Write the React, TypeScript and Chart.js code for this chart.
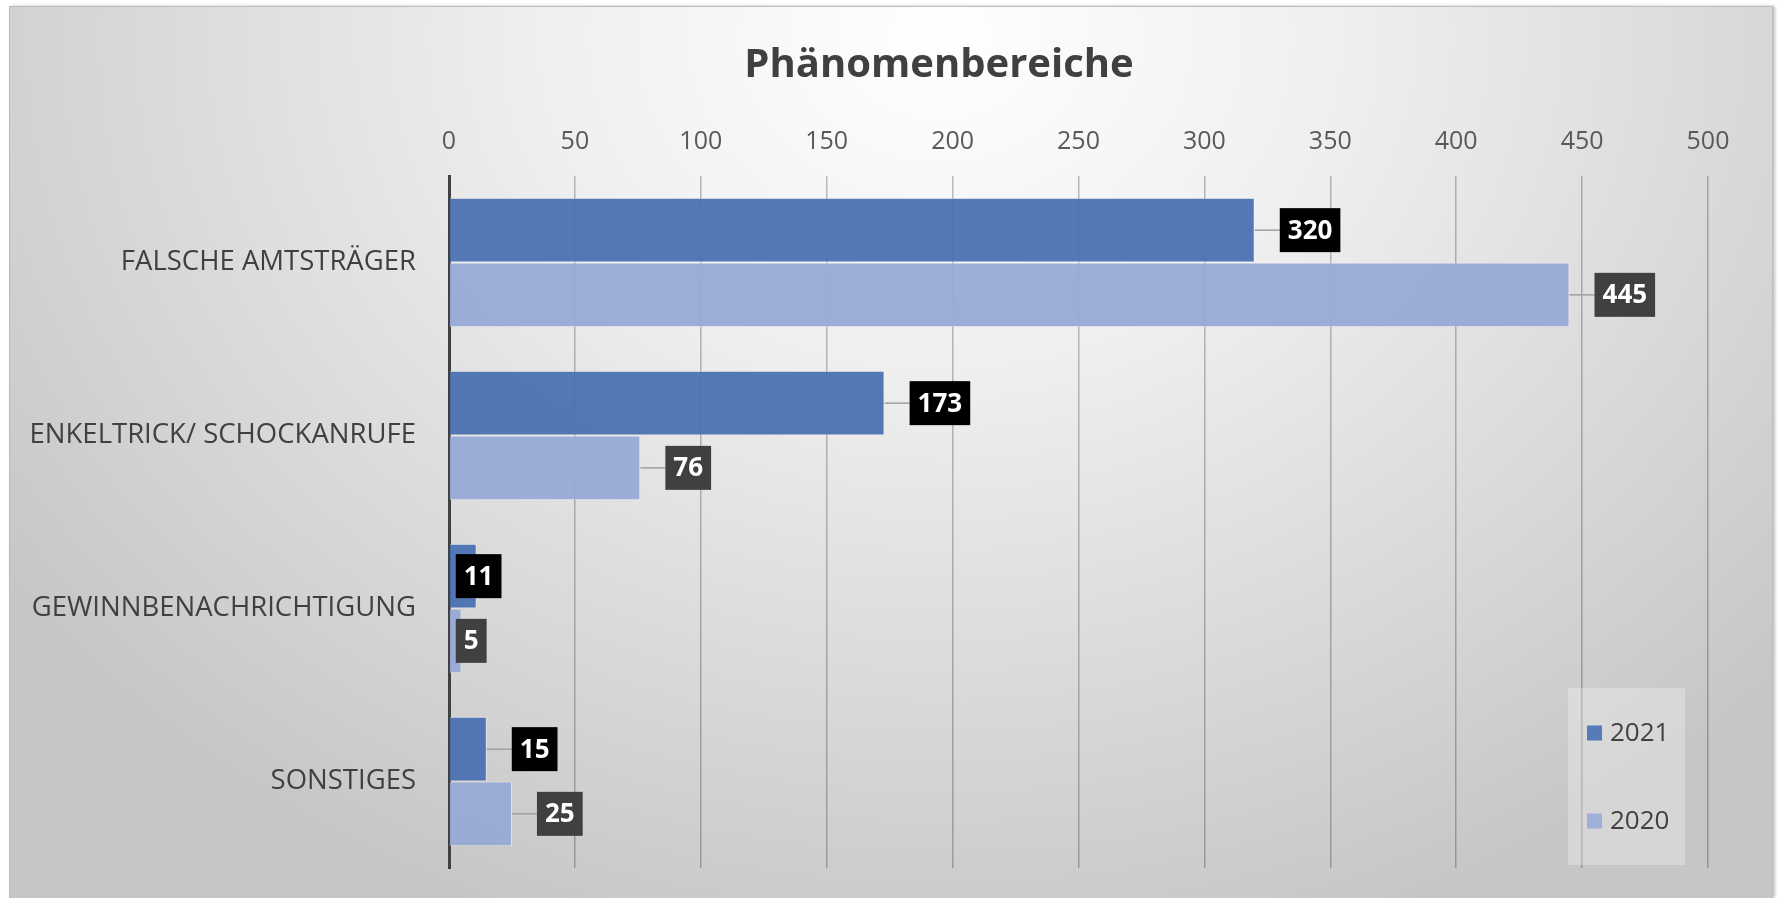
import React, { useEffect, useRef } from "react";
import { Chart, registerables } from "chart.js";

Chart.register(...registerables);

const categories = [
  "FALSCHE AMTSTRÄGER",
  "ENKELTRICK/ SCHOCKANRUFE",
  "GEWINNBENACHRICHTIGUNG",
  "SONSTIGES",
];
const seriesLabels = ["2021", "2020"];
const values2021 = [320, 173, 11, 15];
const values2020 = [445, 76, 5, 25];
const xTickMin = 0;
const xTickMax = 500;
const xTickStep = 50;
const chartTitle = "Phänomenbereiche";

const FONT = "'Open Sans', 'Noto Sans', sans-serif";
const barFill = ["rgba(72,110,178,0.93)", "rgba(150,169,214,0.93)"];
const legendFill = ["#557bb9", "#9fb0da"];
const labelBoxFill = ["#000000", "#404040"];

const CANVAS_W = 1762;
const CANVAS_H = 891;

const titlePlugin = {
  id: "offsetTitle",
  afterDraw(chart: any) {
    const ctx = chart.ctx;
    ctx.save();
    ctx.font = `bold 40px ${FONT}`;
    ctx.fillStyle = "#404040";
    ctx.textAlign = "center";
    ctx.textBaseline = "middle";
    ctx.fillText(chartTitle, chart.width / 2 + 48, 59);
    ctx.restore();
  },
};

const dataLabelPlugin = {
  id: "boxedLabels",
  afterDatasetsDraw(chart: any) {
    const ctx = chart.ctx;
    ctx.save();
    ctx.font = `bold 26px ${FONT}`;
    ctx.textBaseline = "middle";
    ctx.textAlign = "center";
    chart.data.datasets.forEach((ds: any, di: number) => {
      const meta = chart.getDatasetMeta(di);
      meta.data.forEach((bar: any, i: number) => {
        const txt = String(ds.data[i]);
        const tw = ctx.measureText(txt).width;
        const bw = tw + 16;
        const bh = 44;
        const barLen = bar.x - bar.base;
        let bx: number;
        let leader = true;
        if (barLen < 30) {
          bx = bar.base + 6;
          leader = false;
        } else {
          bx = bar.x + 25;
        }
        const by = bar.y - bh / 2;
        if (leader) {
          ctx.strokeStyle = "#a0a0a0";
          ctx.lineWidth = 1.5;
          ctx.beginPath();
          ctx.moveTo(bar.x, bar.y);
          ctx.lineTo(bx, bar.y);
          ctx.stroke();
        }
        ctx.fillStyle = labelBoxFill[di];
        ctx.fillRect(bx, by, bw, bh);
        ctx.fillStyle = "#ffffff";
        ctx.fillText(txt, bx + bw / 2, bar.y + 1);
      });
    });
    ctx.restore();
  },
};

const legendPlugin = {
  id: "insideLegend",
  afterDraw(chart: any) {
    const ctx = chart.ctx;
    const area = chart.chartArea;
    ctx.save();
    const boxX = area.right - 140;
    const boxY = area.bottom - 180;
    const boxW = 117;
    const boxH = 177;
    ctx.fillStyle = "rgba(255,255,255,0.28)";
    ctx.fillRect(boxX, boxY, boxW, boxH);
    ctx.font = `26px ${FONT}`;
    ctx.textBaseline = "middle";
    ctx.textAlign = "left";
    chart.data.datasets.forEach((ds: any, di: number) => {
      const cy = boxY + 45 + di * 88;
      ctx.fillStyle = legendFill[di];
      ctx.fillRect(boxX + 19, cy - 7.5, 15, 15);
      ctx.fillStyle = "#404040";
      ctx.fillText(ds.label, boxX + 42, cy + 1);
    });
    ctx.restore();
  },
};

export default function App() {
  const canvasRef = useRef<HTMLCanvasElement | null>(null);

  useEffect(() => {
    if (!canvasRef.current) return;
    const chart = new Chart(canvasRef.current, {
      type: "bar",
      data: {
        labels: categories,
        datasets: [
          {
            label: seriesLabels[0],
            data: values2021,
            backgroundColor: barFill[0],
            borderColor: "rgba(255,255,255,0.45)",
            borderWidth: 1,
            categoryPercentage: 0.748,
            barPercentage: 1.0,
          },
          {
            label: seriesLabels[1],
            data: values2020,
            backgroundColor: barFill[1],
            borderColor: "rgba(255,255,255,0.45)",
            borderWidth: 1,
            categoryPercentage: 0.748,
            barPercentage: 1.0,
          },
        ],
      },
      options: {
        indexAxis: "y",
        animation: false,
        responsive: false,
        maintainAspectRatio: false,
        layout: { padding: { left: 0, right: 64, top: 0, bottom: 30 } },
        plugins: {
          legend: { display: false },
          tooltip: { enabled: false },
          title: { display: false },
        },
        scales: {
          x: {
            position: "top",
            min: xTickMin,
            max: xTickMax,
            ticks: {
              stepSize: xTickStep,
              color: "#595959",
              font: { family: FONT, size: 25, lineHeight: 1.2 },
              padding: 19,
            },
            grid: {
              drawTicks: false,
              lineWidth: 1.5,
              color: (c: any) =>
                c.tick && c.tick.value === 0 ? "rgba(0,0,0,0)" : "rgba(0,0,0,0.25)",
            },
            border: { display: false },
            afterFit: (scale: any) => {
              scale.height = 169;
              scale.paddingLeft = 0;
              scale.paddingRight = 0;
              scale.paddingTop = 0;
              scale.paddingBottom = 0;
            },
          },
          y: {
            ticks: {
              color: "#404040",
              font: { family: FONT, size: 27.5 },
              padding: 33,
            },
            grid: { display: false, drawTicks: false },
            border: { display: true, color: "#404040", width: 3 },
            afterFit: (scale: any) => {
              scale.width = 439;
              scale.paddingLeft = 0;
              scale.paddingRight = 0;
              scale.paddingTop = 0;
              scale.paddingBottom = 0;
            },
          },
        },
      },
      plugins: [dataLabelPlugin, legendPlugin, titlePlugin],
    });
    return () => chart.destroy();
  }, []);

  return (
    <div
      style={{
        position: "fixed",
        left: 9,
        top: 6,
        width: 1764,
        height: 892,
        boxSizing: "border-box",
        border: "1px solid #bcbcbc",
        borderBottom: "none",
        boxShadow: "2px 0 3px rgba(0,0,0,0.25)",
        overflow: "hidden",
        background:
          "radial-gradient(ellipse 1150px 950px at 930px 30px, #ffffff 0%, #efefef 35%, #dedede 62%, #c6c6c6 100%)",
      }}
    >
      <canvas
        ref={canvasRef}
        width={CANVAS_W}
        height={CANVAS_H}
        style={{ display: "block", width: CANVAS_W, height: CANVAS_H }}
      />
    </div>
  );
}
